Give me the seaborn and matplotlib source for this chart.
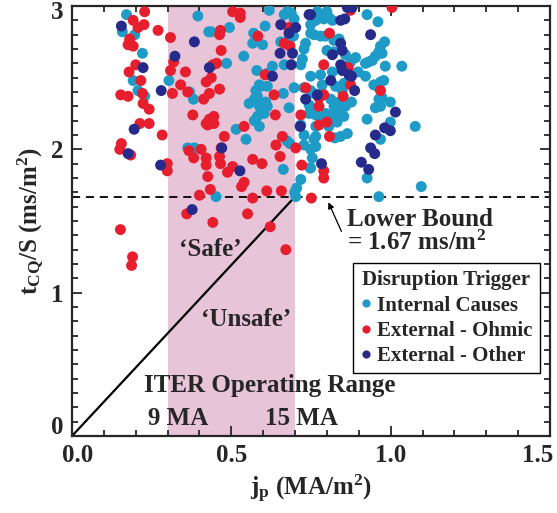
import matplotlib
matplotlib.use("Agg")
import matplotlib.pyplot as plt
import seaborn as sns
import pandas as pd
from matplotlib.ticker import MultipleLocator
from matplotlib.transforms import ScaledTranslation

# ---------------- data ----------------
internal_x = [0.171, 0.158, 0.197, 0.221, 0.192, 0.207, 0.228, 0.304, 0.395, 0.381, 0.429, 0.369,
              0.363, 0.384, 0.546, 0.674, 0.684, 0.663, 0.718, 0.705, 0.699, 0.702, 0.728, 0.749,
              0.747, 0.452, 0.619, 0.437, 0.494, 0.485, 0.515, 0.539, 0.567, 0.598, 0.570, 0.606,
              0.580, 0.629, 0.613, 0.588, 0.577, 0.582, 0.572, 0.556, 0.588, 0.608, 0.613, 0.603,
              0.582, 0.572, 0.588, 0.593, 0.613, 0.663, 0.681, 0.697, 0.666, 0.676, 0.688, 0.697,
              0.655, 0.681, 0.681, 0.695, 0.666, 0.723, 0.718, 0.733, 0.728, 0.749, 0.749, 0.728,
              0.749, 0.744, 0.744, 0.718, 0.728, 0.926, 0.960, 0.770, 0.800, 0.806, 0.790, 0.817,
              0.765, 0.759, 0.780, 0.795, 0.822, 0.838, 0.981, 0.968, 0.963, 0.973, 0.952, 0.942,
              0.931, 0.921, 0.983, 1.035, 0.800, 0.822, 0.858, 0.890, 0.874, 0.898, 0.921, 0.780,
              0.817, 0.785, 0.827, 0.848, 0.853, 0.947, 0.968, 0.978, 0.963, 0.749, 0.759, 0.785,
              0.812, 0.838, 0.858, 0.877, 0.822, 0.749, 0.765, 0.796, 0.817, 0.838, 0.963, 0.973,
              0.999, 0.952, 0.968, 0.780, 0.806, 0.832, 0.853, 0.806, 0.765, 0.926, 0.999, 1.077,
              0.765, 0.843, 0.864, 0.759, 0.765, 0.754, 0.749, 0.825, 0.968, 0.926, 0.963, 1.096]
internal_y = [2.94, 2.82, 2.80, 2.67, 2.48, 2.41, 2.37, 2.48, 2.93, 2.35, 2.82, 2.40,
              2.01, 2.01, 2.07, 2.06, 2.04, 1.86, 1.79, 1.73, 1.70, 1.67, 2.03, 2.00,
              1.87, 1.67, 2.97, 2.82, 2.85, 2.60, 2.14, 2.65, 2.74, 2.73, 2.81, 2.86,
              2.55, 2.58, 2.53, 2.45, 2.41, 2.37, 2.35, 2.32, 2.30, 2.33, 2.30, 2.25,
              2.23, 2.20, 2.16, 2.44, 2.44, 2.39, 2.29, 2.43, 2.94, 2.96, 2.95, 2.91,
              2.75, 2.77, 2.73, 2.79, 2.59, 2.63, 2.59, 2.74, 2.70, 2.87, 2.81, 2.43,
              2.51, 2.31, 2.25, 2.17, 2.10, 2.94, 2.89, 2.96, 2.96, 2.92, 2.91, 2.90,
              2.90, 2.80, 2.79, 2.79, 2.76, 2.77, 2.75, 2.72, 2.68, 2.67, 2.65, 2.62,
              2.61, 2.60, 2.58, 2.58, 2.69, 2.68, 2.66, 2.64, 2.61, 2.54, 2.51, 2.52,
              2.54, 2.45, 2.44, 2.41, 2.46, 2.45, 2.47, 2.48, 2.43, 2.41, 2.39, 2.39,
              2.35, 2.33, 2.30, 2.33, 2.30, 2.28, 2.24, 2.25, 2.24, 2.26, 2.35, 2.36,
              2.33, 2.29, 2.30, 2.22, 2.22, 2.19, 2.23, 2.16, 2.16, 2.21, 2.19, 2.16,
              2.09, 2.09, 2.11, 2.07, 2.02, 1.94, 1.87, 2.08, 2.07, 1.80, 1.67, 1.74]

ohmic_x = [0.228, 0.192, 0.226, 0.207, 0.270, 0.181, 0.176, 0.192, 0.309, 0.200, 0.179, 0.216,
           0.319, 0.309, 0.356, 0.341, 0.363, 0.315, 0.221, 0.153, 0.176, 0.223, 0.242, 0.213,
           0.242, 0.283, 0.379, 0.421, 0.413, 0.421, 0.155, 0.150, 0.184, 0.299, 0.299, 0.367,
           0.405, 0.382, 0.421, 0.421, 0.426, 0.400, 0.360, 0.152, 0.190, 0.187, 0.478, 0.468,
           0.463, 0.466, 0.504, 0.488, 0.567, 0.596, 0.540, 0.532, 0.434, 0.567, 0.611, 0.657,
           0.551, 0.442, 0.622, 0.671, 0.640, 0.660, 0.702, 0.653, 0.721, 0.751, 0.504, 0.528,
           0.528, 0.466, 0.463, 0.468, 0.442, 0.454, 0.437, 0.463, 0.431, 0.445, 0.431, 0.445,
           0.426, 0.540, 0.583, 0.606, 0.634, 0.638, 0.681, 0.666, 0.684, 0.733, 0.718, 0.874,
           1.004, 0.808, 0.790, 0.867, 0.874, 0.968, 0.775, 0.790, 0.851, 0.775, 0.775, 0.800,
           0.808, 0.790, 0.790]
ohmic_y = [2.96, 2.90, 2.87, 2.85, 2.83, 2.77, 2.73, 2.72, 2.78, 2.59, 2.54, 2.48,
           2.61, 2.55, 2.54, 2.45, 2.40, 2.39, 2.39, 2.38, 2.37, 2.32, 2.28, 2.18,
           2.18, 2.10, 2.24, 2.47, 2.35, 2.18, 2.04, 2.00, 1.96, 1.90, 1.85, 1.99,
           2.00, 1.94, 1.94, 1.89, 1.81, 1.68, 1.55, 1.44, 1.25, 1.19, 2.09, 2.01,
           1.95, 1.90, 1.88, 1.84, 1.93, 1.90, 1.77, 1.74, 1.72, 1.66, 1.71, 1.71,
           1.55, 1.49, 1.46, 1.30, 2.03, 2.09, 2.01, 1.95, 1.89, 1.66, 2.96, 2.95,
           2.92, 2.83, 2.80, 2.69, 2.59, 2.60, 2.50, 2.42, 2.39, 2.23, 2.21, 2.18,
           2.17, 2.16, 2.79, 2.52, 2.38, 2.24, 2.85, 2.74, 2.72, 2.43, 2.24, 2.97,
           2.99, 2.81, 2.59, 2.57, 2.45, 2.41, 2.36, 2.38, 2.37, 2.30, 2.17, 2.19,
           2.09, 1.85, 1.80]

other_x = [0.155, 0.223, 0.280, 0.323, 0.384, 0.195, 0.431, 0.176, 0.278, 0.377, 0.470, 0.527,
           0.629, 0.655, 0.702, 0.681, 0.653, 0.692, 0.688, 0.744, 0.733, 0.716, 0.864, 0.879,
           0.749, 0.843, 0.856, 0.843, 0.937, 0.848, 0.817, 0.843, 0.848, 0.869, 0.877, 0.812,
           0.887, 0.770, 1.015, 0.981, 0.999, 0.952, 0.783, 0.937, 0.950, 0.908, 0.931]
other_y = [2.86, 2.57, 2.41, 2.65, 2.75, 2.14, 2.57, 1.97, 1.89, 1.58, 2.01, 1.85,
           2.51, 2.87, 2.85, 2.81, 2.67, 2.67, 2.59, 2.94, 2.35, 2.16, 2.99, 2.99,
           2.94, 2.90, 2.91, 2.74, 2.80, 2.69, 2.66, 2.59, 2.55, 2.52, 2.51, 2.48,
           2.41, 2.38, 2.26, 2.15, 2.13, 2.10, 1.90, 2.01, 1.97, 1.91, 1.86]

categories = ["Internal Causes", "External - Ohmic", "External - Other"]
palette = ["#1f9bc7", "#e61e2d", "#262a8a"]

lower_bound = 1.67
iter_range = [0.3, 0.7]
x_ticks = [0.0, 0.5, 1.0, 1.5]
x_ticklabels = ["0.0", "0.5", "1.0", "1.5"]
y_ticks = [0, 1, 2, 3]
y_ticklabels = ["0", "1", "2", "3"]

# ---------------- frame ----------------
df = pd.concat([
    pd.DataFrame({"jp": internal_x, "t": internal_y, "Trigger": categories[0]}),
    pd.DataFrame({"jp": ohmic_x, "t": ohmic_y, "Trigger": categories[1]}),
    pd.DataFrame({"jp": other_x, "t": other_y, "Trigger": categories[2]}),
], ignore_index=True)

sns.set_theme(style="ticks")
plt.rcParams["font.family"] = ["Liberation Serif", "DejaVu Serif"]
plt.rcParams["font.weight"] = "bold"
plt.rcParams["axes.labelweight"] = "bold"
plt.rcParams["mathtext.fontset"] = "custom"
plt.rcParams["mathtext.rm"] = "Liberation Serif:bold"
plt.rcParams["mathtext.it"] = "Liberation Serif:bold"
plt.rcParams["mathtext.bf"] = "Liberation Serif:bold"

fig = plt.figure(figsize=(5.57, 5.13), dpi=100)
ax = fig.add_axes([72 / 557, 1 - 436 / 513, (550 - 72) / 557, (436 - 6) / 513])

ax.axvspan(iter_range[0], iter_range[1], color="#e8c4d8", zorder=0, lw=0)

sns.scatterplot(data=df, x="jp", y="t", hue="Trigger", hue_order=categories,
                palette=palette, s=62, linewidth=0, ax=ax, zorder=3)

ax.axhline(lower_bound, color="black", lw=1.3, dashes=(4.5, 3.2), zorder=2)
ax.plot([0, iter_range[1]], [0, lower_bound], color="black", lw=1.6, zorder=2)

ax.set_xlim(0, 1.5)
ax.set_ylim(0, 3)
ax.set_xticks(x_ticks)
ax.set_xticklabels(x_ticklabels)
ax.set_yticks(y_ticks)
ax.set_yticklabels(y_ticklabels)
ax.xaxis.set_minor_locator(MultipleLocator(0.1))
ax.yaxis.set_minor_locator(MultipleLocator(0.1))
ax.tick_params(which="both", direction="in", top=True, right=True, width=1.3,
               labelsize=18, pad=6)
ax.tick_params(which="major", length=7)
ax.tick_params(which="minor", length=4)
for lab in ax.get_xticklabels() + ax.get_yticklabels():
    lab.set_fontweight("bold")

# edge tick labels shifted inward like the reference
xl = ax.get_xticklabels()
xl[0].set_transform(xl[0].get_transform() + ScaledTranslation(6 / 100, 0, fig.dpi_scale_trans))
xl[-1].set_transform(xl[-1].get_transform() + ScaledTranslation(-12 / 100, 0, fig.dpi_scale_trans))
yl = ax.get_yticklabels()
yl[0].set_verticalalignment("bottom")
yl[0].set_transform(yl[0].get_transform() + ScaledTranslation(0, -3 / 100, fig.dpi_scale_trans))
yl[-1].set_verticalalignment("top")
yl[-1].set_transform(yl[-1].get_transform() + ScaledTranslation(0, 5 / 100, fig.dpi_scale_trans))

for sp in ax.spines.values():
    sp.set_linewidth(1.6)
    sp.set_visible(True)

ax.set_xlabel(r"j$_{\mathrm{p}}$ (MA/m$^{2}$)", fontsize=18, fontweight="bold", labelpad=4)
ax.set_ylabel(r"t$_{\mathrm{CQ}}$/S (ms/m$^{2}$)", fontsize=18, fontweight="bold", labelpad=4)

tk = dict(fontsize=18, fontweight="bold", zorder=5)
ax.text(0.863, 1.51, "Lower Bound", ha="left", va="center", **tk)
ax.text(0.863, 1.35, r"= 1.67 ms/m$^{2}$", ha="left", va="center", **tk)
ax.annotate("", xy=(0.801, 1.648), xytext=(0.849, 1.41),
            arrowprops=dict(arrowstyle="-|>", color="black", lw=0.9, mutation_scale=9))
ax.text(0.435, 1.30, "\u2018Safe\u2019", ha="center", va="center", **tk)
ax.text(0.545, 0.81, "\u2018Unsafe\u2019", ha="center", va="center", **tk)
ax.text(0.62, 0.35, "ITER Operating Range", ha="center", va="center", **tk)
ax.text(0.333, 0.12, "9 MA", ha="center", va="center", **tk)
ax.text(0.72, 0.12, "15 MA", ha="center", va="center", **tk)

handles, labels = ax.get_legend_handles_labels()
leg = ax.legend(handles, labels, title="Disruption Trigger", loc="upper left",
                bbox_to_anchor=(0.588, 0.402), frameon=True, fancybox=False,
                edgecolor="black", framealpha=1, fontsize=15, title_fontsize=15,
                markerscale=0.75, handlelength=0.5, handletextpad=0.3,
                labelspacing=0.25, borderpad=0.35, borderaxespad=0)
leg.get_frame().set_linewidth(1.0)
leg.get_title().set_fontweight("bold")
for t in leg.get_texts():
    t.set_fontweight("bold")
leg.set_zorder(6)

fig.savefig("out.png", dpi=100)
